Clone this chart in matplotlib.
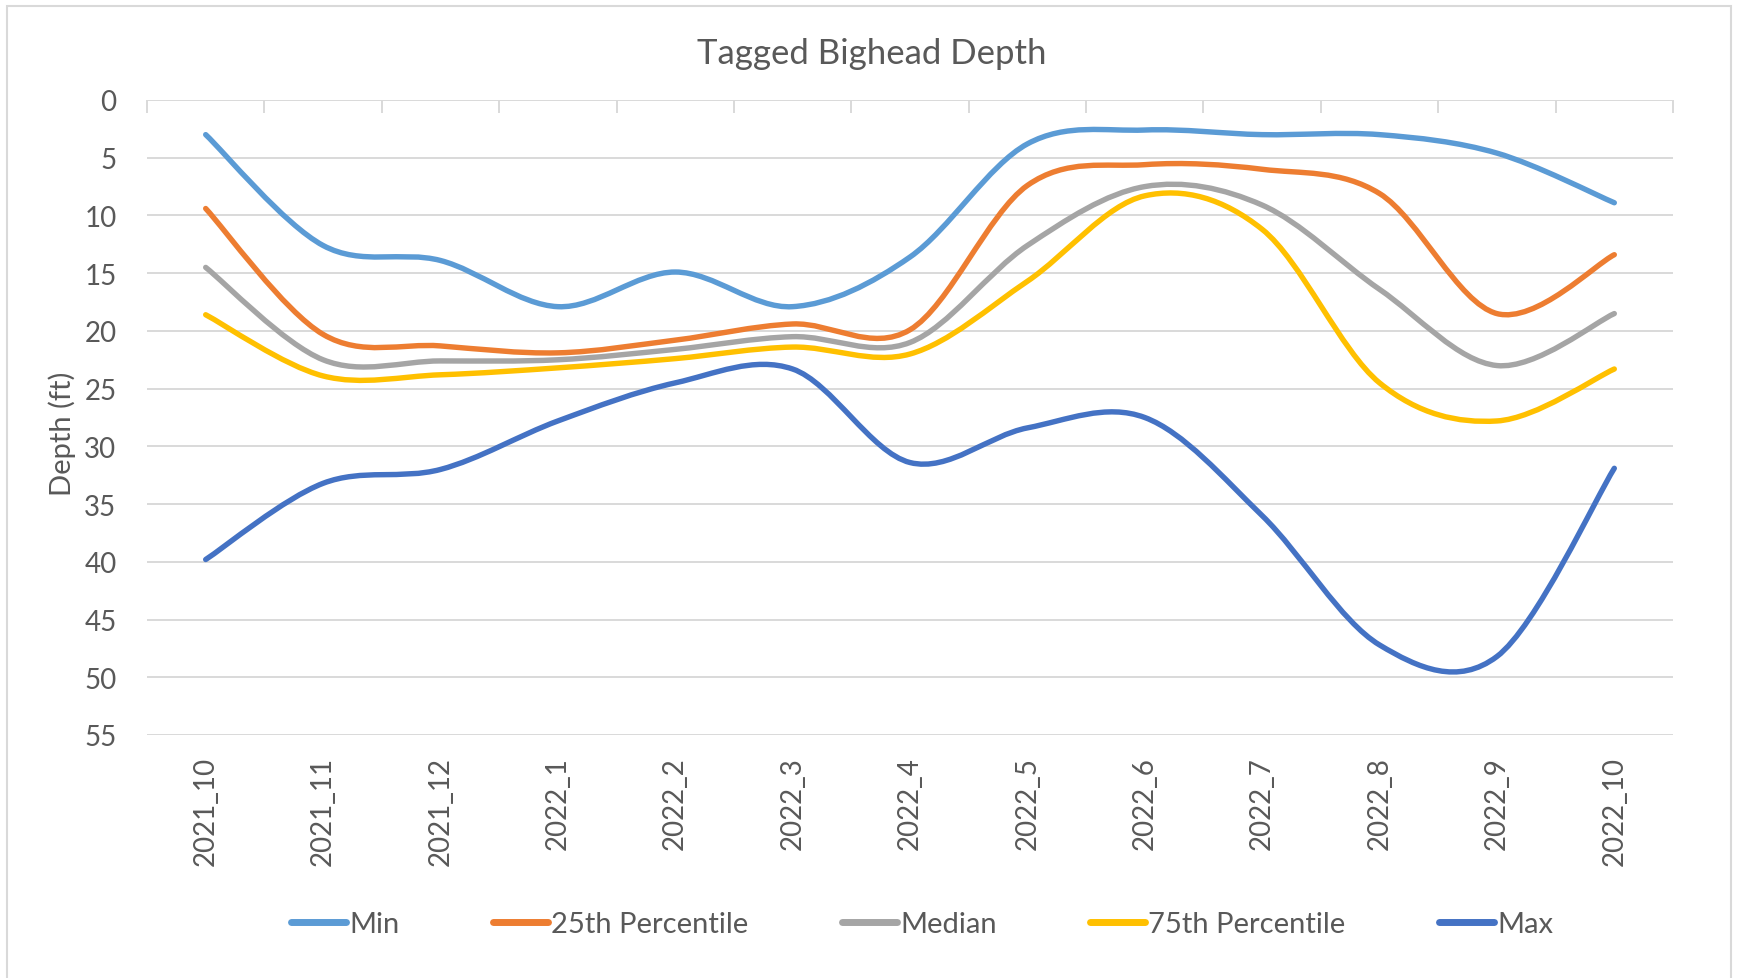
import matplotlib
matplotlib.use("Agg")
import matplotlib.pyplot as plt
import numpy as np
from matplotlib.path import Path
from matplotlib.patches import PathPatch, Rectangle
from matplotlib.lines import Line2D

months = ['2021_10', '2021_11', '2021_12', '2022_1', '2022_2', '2022_3', '2022_4',
          '2022_5', '2022_6', '2022_7', '2022_8', '2022_9', '2022_10']

depth_min = [3.0, 12.6, 13.9, 17.9, 14.9, 17.9, 13.6, 3.8, 2.6, 3.0, 3.0, 4.6, 8.9]
depth_p25 = [9.4, 20.3, 21.3, 21.9, 20.8, 19.4, 19.9, 7.4, 5.6, 6.0, 8.1, 18.5, 13.4]
depth_med = [14.5, 22.5, 22.6, 22.5, 21.6, 20.5, 21.0, 12.6, 7.5, 9.1, 16.4, 23.0, 18.5]
depth_p75 = [18.6, 23.9, 23.8, 23.2, 22.4, 21.4, 22.0, 15.7, 8.3, 11.2, 24.5, 27.8, 23.3]
depth_max = [39.8, 33.2, 32.0, 27.8, 24.5, 23.3, 31.4, 28.4, 27.5, 36.0, 47.2, 48.2, 31.9]

series_names = ['Min', '25th Percentile', 'Median', '75th Percentile', 'Max']
series_colors = ['#5B9BD5', '#ED7D31', '#A5A5A5', '#FFC000', '#4472C4']

txt = '#595959'
grid_col = '#D9D9D9'
plt.rcParams['font.family'] = ['Lato', 'DejaVu Sans']


def smooth_path(xs, ys, t=1/6):
    # excel-style smoothed line: cubic bezier through the points
    pts = np.column_stack([xs, ys]).astype(float)
    n = len(pts)
    verts = [pts[0]]
    codes = [Path.MOVETO]
    for i in range(n - 1):
        p0 = pts[max(i - 1, 0)]
        p1 = pts[i]
        p2 = pts[i + 1]
        p3 = pts[min(i + 2, n - 1)]
        verts += [p1 + (p2 - p0) * t, p2 - (p3 - p1) * t, p2]
        codes += [Path.CURVE4] * 3
    return Path(verts, codes)


fig = plt.figure(figsize=(17.37, 9.79), dpi=100)
ax = fig.add_axes([147/1737, 1 - 736/979, (1673-147)/1737, (736-101)/979])

x = np.arange(len(months))
all_series = [depth_min, depth_p25, depth_med, depth_p75, depth_max]
for vals, col in zip(all_series, series_colors):
    ax.add_patch(PathPatch(smooth_path(x, vals), fill=False, edgecolor=col,
                           lw=3.9, capstyle='round', joinstyle='round', zorder=3))

ax.set_xlim(-0.5, len(months) - 0.5)
ax.set_ylim(55, 0)
ax.set_yticks(np.arange(0, 56, 5))
ax.yaxis.grid(True, color=grid_col, lw=1.4)
ax.set_axisbelow(True)
for s in ax.spines.values():
    s.set_visible(False)

ax.set_xticks(x)
ax.set_xticklabels(months, rotation=90, va='top', ha='center')
ax.set_xticks(np.arange(-0.5, len(months), 1), minor=True)
ax.tick_params(axis='x', which='major', length=0, pad=15, labelsize=20, labelcolor=txt)
ax.tick_params(axis='x', which='minor', bottom=False, top=True, direction='in',
               length=9, width=1.4, color=grid_col)
ax.tick_params(axis='y', length=0, pad=22, labelsize=20, labelcolor=txt)

fig.text(0.502, 1 - 54/979, 'Tagged Bighead Depth', ha='center', va='center',
         fontsize=25, color=txt)
fig.text(62/1737, 1 - 434/979, 'Depth (ft)', ha='center', va='center',
         rotation=90, fontsize=21, color=txt)

handles = [Line2D([], [], color=c, lw=5, solid_capstyle='round') for c in series_colors]
fig.legend(handles, series_names, loc='center', bbox_to_anchor=(922/1737, 1 - 925/979),
           ncol=5, frameon=False, handlelength=1.9, handletextpad=0.1,
           columnspacing=3.2, fontsize=21, labelcolor=txt)

fig.patches.append(Rectangle((7/1737, -0.02), (1731-7)/1737, 1.02 - 7/979,
                             transform=fig.transFigure, fill=False,
                             edgecolor=grid_col, lw=1.5))

fig.savefig('out.png', dpi=100)
